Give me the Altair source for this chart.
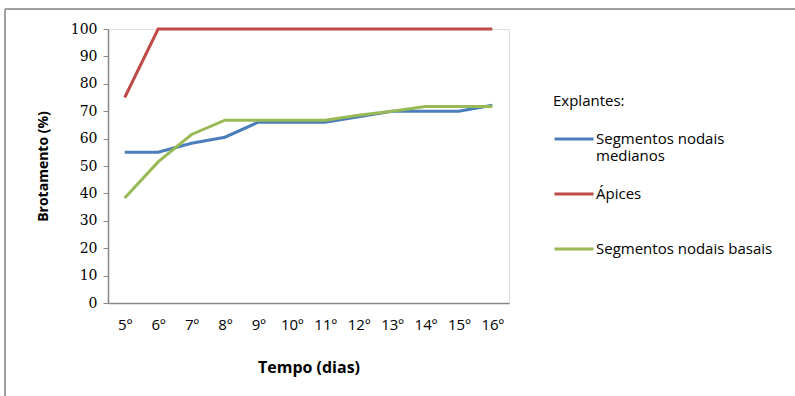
import altair as alt
import pandas as pd

dias = ["5º", "6º", "7º", "8º", "9º", "10º", "11º", "12º", "13º", "14º", "15º", "16º"]
medianos = [55, 55, 58.3, 60.5, 66, 66, 66, 68, 70, 70, 70, 72.2]
apices = [75, 100, 100, 100, 100, 100, 100, 100, 100, 100, 100, 100]
basais = [38.3, 51.5, 61.5, 66.7, 66.7, 66.7, 66.7, 68.5, 70, 71.7, 71.7, 71.7]
series = ["Segmentos nodais medianos", "Ápices", "Segmentos nodais basais"]
colors = ["#4A7EBB", "#BE4B48", "#98B954"]

rows = []
for name, vals in zip(series, [medianos, apices, basais]):
    for d, v in zip(dias, vals):
        rows.append({"Tempo": d, "Brotamento": v, "Explante": name})
df = pd.DataFrame(rows)

W, H = 401, 274
FONT = "Open Sans"

label_expr = ("datum.label == 'Segmentos nodais medianos' ? ['Segmentos nodais', 'medianos'] : "
              "datum.label == 'Ápices' ? ['Ápices', ' '] : datum.label")

lines = alt.Chart(df).mark_line(strokeWidth=3).encode(
    x=alt.X("Tempo:N", sort=dias, scale=alt.Scale(padding=0.5),
            axis=alt.Axis(title="Tempo (dias)", labelAngle=0, ticks=False,
                          labelFont=FONT, labelFontSize=15, labelColor="#000",
                          labelPadding=14, titleFont=FONT, titleFontSize=16,
                          titleFontWeight="bold", titleColor="#000", titlePadding=27,
                          domainColor="#888888", domainWidth=1.5)),
    y=alt.Y("Brotamento:Q", scale=alt.Scale(domain=[0, 100]),
            axis=alt.Axis(title="Brotamento (%)", values=list(range(0, 101, 10)),
                          grid=False, tickSize=5, tickColor="#888888",
                          domainColor="#888888", domainWidth=1.5,
                          labelFont="DejaVu Serif", labelFontSize=14, labelColor="#000",
                          labelPadding=6, titleFont=FONT, titleFontSize=14,
                          titleFontWeight="bold", titleColor="#000", titlePadding=20)),
    color=alt.Color("Explante:N", scale=alt.Scale(domain=series, range=colors),
                    sort=series,
                    legend=alt.Legend(title="Explantes:", orient="none",
                                      legendX=445, legendY=65,
                                      titleFont=FONT, titleFontSize=15,
                                      titleFontWeight="normal", titleColor="#000",
                                      titlePadding=9,
                                      labelFont=FONT, labelFontSize=15, labelColor="#000",
                                      labelLimit=300, labelOffset=1,
                                      symbolType="stroke", symbolSize=1521,
                                      symbolStrokeWidth=3, rowPadding=9,
                                      labelExpr=label_expr)),
)

border = alt.Chart(df).mark_rule(color="#A0A0A0", strokeWidth=2).encode(
    x=alt.value(-103), x2=alt.value(690), y=alt.value(-20))
border2 = alt.Chart(df).mark_rule(color="#A0A0A0", strokeWidth=2).encode(
    x=alt.value(-103), y=alt.value(-20), y2=alt.value(370))

chart = alt.layer(border, border2, lines).properties(
    width=W, height=H,
    padding={"left": 108, "top": 29, "right": 286, "bottom": 93},
    autosize=alt.AutoSizeParams(type="none"),
).configure_view(stroke=None).configure(background="white")

chart.save("out.html", embed_options={"renderer": "svg", "actions": False})
